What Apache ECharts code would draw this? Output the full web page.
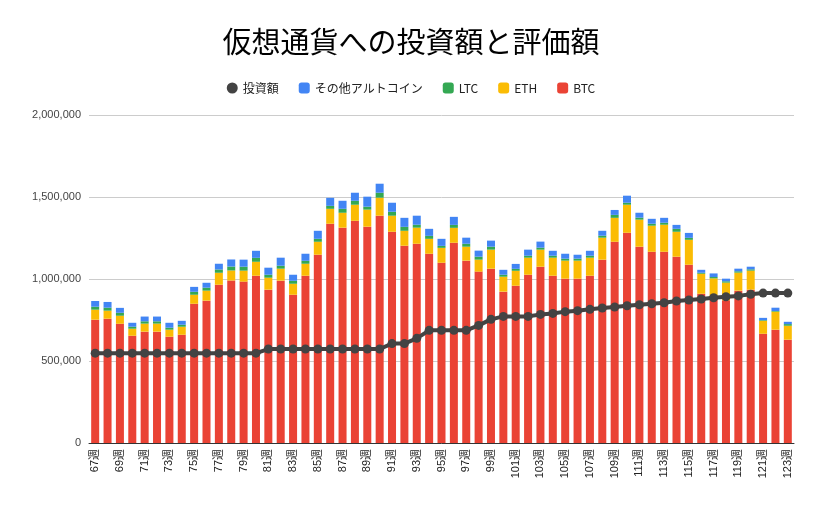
<!DOCTYPE html>
<html>
<head>
<meta charset="utf-8">
<script src="https://cdn.jsdelivr.net/npm/echarts@6/dist/echarts.min.js"></script>
<style>
html,body{margin:0;padding:0;background:#fff;}
#c{width:822px;height:508px;}
</style>
</head>
<body>
<div id="c"></div>
<script>
// Week numbers (categories)
const weeks = [67,68,69,70,71,72,73,74,75,76,77,78,79,80,81,82,83,84,85,86,87,88,89,90,91,92,93,94,95,96,97,98,99,100,101,102,103,104,105,106,107,108,109,110,111,112,113,114,115,116,117,118,119,120,121,122,123];
const categories = weeks.map(w => w + '週');

// Values in thousands of yen
const btcK = [752,758,727,654,679,679,648,660,849,868,965,991,984,1020,935,990,904,1020,1148,1337,1313,1355,1319,1386,1288,1203,1215,1154,1099,1221,1112,1045,1063,923,959,1026,1075,1020,1002,1002,1020,1118,1227,1282,1197,1166,1166,1136,1087,910,894,870,929,935,666,691,630];
const ethK = [61,49,49,43,49,49,43,49,55,61,73,61,67,85,73,73,67,73,79,91,91,98,104,110,98,91,98,91,91,91,85,73,116,91,91,104,104,110,110,110,110,134,146,171,165,159,165,152,152,122,110,108,110,116,79,110,85];
const ltcK = [18,18,18,12,14,14,12,12,18,18,20,24,24,24,18,18,18,18,18,18,24,24,18,30,24,24,18,18,12,18,18,18,18,12,12,12,12,12,12,12,12,12,18,12,12,12,12,18,12,6,8,8,8,8,4,4,10];
const otherK = [35,35,30,24,29,29,30,24,30,30,35,43,43,43,43,49,37,43,49,49,49,49,61,55,55,55,55,43,43,49,37,37,37,30,30,37,37,30,30,24,30,30,30,43,30,30,30,24,30,18,22,16,16,16,14,20,14];
const investK = [548,548,548,548,548,548,548,548,548,548,548,548,548,548,573,573,573,573,573,573,573,573,573,573,606,606,638,687,687,687,687,717,754,772,772,772,784,790,801,807,815,823,829,837,843,849,855,866,872,878,886,892,897,907,914,914,914];

const yTicks = [0, 500000, 1000000, 1500000, 2000000];

const toYen = a => a.map(v => v * 1000);

const chart = echarts.init(document.getElementById('c'), null, {renderer: 'canvas'});
const jp = '"Noto Sans CJK JP", "Noto Sans", sans-serif';
const ax = '"Liberation Sans", Arial, "Noto Sans CJK JP", sans-serif';

function barSeries(name, data, color) {
  return {
    name, type: 'bar', stack: 'total', data: toYen(data),
    barWidth: 8,
    itemStyle: {color},
    emphasis: {disabled: true},
    z: 2
  };
}

chart.setOption({
  animation: false,
  backgroundColor: '#ffffff',
  title: {
    text: '仮想通貨への投資額と評価額',
    left: 'center', top: 22,
    textStyle: {fontFamily: jp, fontSize: 29, fontWeight: 'normal', color: '#000'}
  },
  legend: {
    top: 77, left: 'center',
    itemWidth: 11, itemHeight: 11, itemGap: 20,
    textStyle: {fontFamily: jp, fontSize: 12, color: '#222'},
    data: [
      {name: '投資額', icon: 'circle', itemStyle: {color: '#434343'}},
      {name: 'その他アルトコイン', icon: 'roundRect'},
      {name: 'LTC', icon: 'roundRect'},
      {name: 'ETH', icon: 'roundRect'},
      {name: 'BTC', icon: 'roundRect'}
    ]
  },
  grid: {left: 89, right: 28, top: 115, bottom: 65, containLabel: false},
  xAxis: {
    type: 'category', data: categories, boundaryGap: true,
    axisLine: {lineStyle: {color: '#333', width: 1}},
    axisTick: {show: false},
    axisLabel: {rotate: 90, interval: 1, fontFamily: ax, fontSize: 11, color: '#222', margin: 6}
  },
  yAxis: {
    type: 'value', min: yTicks[0], max: yTicks[yTicks.length - 1], interval: 500000,
    axisLine: {show: false}, axisTick: {show: false},
    axisLabel: {fontFamily: ax, fontSize: 11, color: '#444', margin: 8,
      formatter: v => v.toLocaleString('en-US')},
    splitLine: {lineStyle: {color: '#cccccc', width: 1}}
  },
  series: [
    barSeries('BTC', btcK, '#ea4335'),
    barSeries('ETH', ethK, '#fbbc04'),
    barSeries('LTC', ltcK, '#34a853'),
    barSeries('その他アルトコイン', otherK, '#4285f4'),
    {
      name: '投資額', type: 'line', data: toYen(investK),
      symbol: 'circle', symbolSize: 9, showAllSymbol: true,
      lineStyle: {color: '#434343', width: 4},
      itemStyle: {color: '#434343'},
      emphasis: {disabled: true},
      z: 5
    }
  ]
});
</script>
</body>
</html>
